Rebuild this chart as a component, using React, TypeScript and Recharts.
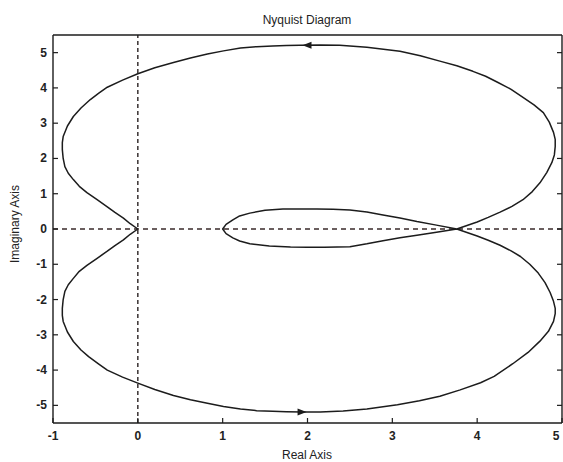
import { LineChart, Line, XAxis, YAxis, ReferenceLine, ReferenceDot } from "recharts";

const WIDTH = 563;
const HEIGHT = 462;
const FONT = "'Liberation Sans', Arial, sans-serif";
const INK = "#1c1c1c";

const reTicks = [-1, 0, 1, 2, 3, 4, 5];
const imTicks = [-5, -4, -3, -2, -1, 0, 1, 2, 3, 4, 5];

// traced from the origin: lower lobe, inner loop, upper lobe, back to the origin
const realPart = [
  // lower lobe
  0, -0.09, -0.17, -0.27, -0.36, -0.48, -0.6, -0.69, -0.76, -0.82, -0.86, -0.88, -0.89, -0.89, -0.88, -0.83,
  -0.76, -0.67, -0.58, -0.46, -0.36, -0.18, 0, 0.2, 0.42, 0.62, 0.82, 1.01, 1.21, 1.4, 1.59, 1.75, 1.93,
  2.15, 2.42, 2.7, 3.06, 3.32, 3.56, 3.8, 4.04, 4.2, 4.42, 4.6, 4.74, 4.84, 4.9, 4.92, 4.92, 4.9, 4.86,
  4.8, 4.72, 4.62, 4.51, 4.4, 4.27, 4.13, 4.0, 3.88, 3.76,
  // inner loop
  3.52, 3.29, 3.09, 2.89, 2.7, 2.5, 2.3, 2.11, 1.91, 1.71, 1.5, 1.32, 1.2, 1.12, 1.04, 1.0,
  1.04, 1.12, 1.2, 1.32, 1.55, 1.8, 2.0, 2.2, 2.5, 2.7, 2.89, 3.09, 3.29, 3.52, 3.76,
  // upper lobe
  3.88, 4.0, 4.13, 4.27, 4.41, 4.54, 4.65, 4.74, 4.82, 4.88, 4.91, 4.92, 4.92, 4.9, 4.85, 4.78, 4.67,
  4.54, 4.4, 4.24, 4.1, 3.95, 3.76, 3.56, 3.33, 3.09, 2.7, 2.38, 2.15, 1.91, 1.75, 1.59, 1.4, 1.21,
  1.01, 0.82, 0.62, 0.42, 0.2, 0, -0.18, -0.36, -0.46, -0.56, -0.67, -0.76, -0.83, -0.88, -0.89,
  -0.89, -0.88, -0.86, -0.82, -0.76, -0.69, -0.6, -0.48, -0.36, -0.27, -0.17, -0.09, 0,
];
const imagPart = [
  // lower lobe
  0, -0.15, -0.31, -0.47, -0.63, -0.83, -1.03, -1.2, -1.4, -1.58, -1.77, -2.0, -2.25, -2.45, -2.62, -2.92,
  -3.19, -3.43, -3.62, -3.83, -4.0, -4.2, -4.37, -4.55, -4.72, -4.84, -4.94, -5.03, -5.1, -5.15, -5.17, -5.18, -5.19,
  -5.19, -5.16, -5.1, -4.98, -4.87, -4.74, -4.56, -4.36, -4.18, -3.82, -3.5, -3.18, -2.9, -2.62, -2.4, -2.25, -2.05, -1.8,
  -1.52, -1.25, -1.0, -0.78, -0.62, -0.46, -0.32, -0.2, -0.1, 0,
  // inner loop
  0.11, 0.21, 0.31, 0.4, 0.48, 0.54, 0.56, 0.57, 0.57, 0.57, 0.53, 0.45, 0.37, 0.26, 0.13, 0,
  -0.13, -0.25, -0.34, -0.42, -0.48, -0.51, -0.52, -0.52, -0.5, -0.42, -0.33, -0.25, -0.18, -0.09, 0,
  // upper lobe
  0.1, 0.2, 0.33, 0.48, 0.64, 0.83, 1.06, 1.31, 1.6, 1.88, 2.1, 2.34, 2.54, 2.74, 3.03, 3.3, 3.52,
  3.73, 3.96, 4.16, 4.33, 4.47, 4.63, 4.76, 4.91, 5.04, 5.15, 5.21, 5.22, 5.21, 5.2, 5.19, 5.17, 5.13,
  5.05, 4.96, 4.85, 4.72, 4.57, 4.4, 4.22, 4.02, 3.85, 3.67, 3.43, 3.19, 2.92, 2.62, 2.45,
  2.25, 2.0, 1.77, 1.58, 1.4, 1.21, 1.03, 0.83, 0.63, 0.47, 0.31, 0.15, 0,
];

const arrowRe = [2.0, 1.93];
const arrowIm = [5.21, -5.19];
const arrowDir = [-1, 1];

const curve = realPart.map((re, i) => ({ re, im: imagPart[i] }));

function BottomTick({ x, y, payload }: any) {
  return (
    <g>
      <line x1={x} y1={y} x2={x} y2={y - 5} stroke={INK} strokeWidth={1.2} />
      <text
        x={Math.min(x, 556)}
        y={y + 17}
        textAnchor="middle"
        fontSize={12}
        fontWeight="bold"
        fill="#222"
        fontFamily={FONT}
      >
        {payload.value}
      </text>
    </g>
  );
}

function TopTick({ x, y }: any) {
  return <line x1={x} y1={y} x2={x} y2={y + 5} stroke={INK} strokeWidth={1.2} />;
}

function LeftTick({ x, y, payload }: any) {
  return (
    <g>
      <line x1={x} y1={y} x2={x + 5} y2={y} stroke={INK} strokeWidth={1.2} />
      <text x={x - 6} y={y + 4} textAnchor="end" fontSize={12} fontWeight="bold" fill="#222" fontFamily={FONT}>
        {payload.value}
      </text>
    </g>
  );
}

function RightTick({ x, y }: any) {
  return <line x1={x} y1={y} x2={x - 5} y2={y} stroke={INK} strokeWidth={1.2} />;
}

function arrowShape(dir: number) {
  return ({ cx, cy }: any) => (
    <polygon
      points={`${cx + dir * 5},${cy} ${cx - dir * 4},${cy - 3.5} ${cx - dir * 4},${cy + 3.5}`}
      fill={INK}
    />
  );
}

const label = {
  position: "absolute" as const,
  width: 200,
  textAlign: "center" as const,
  fontFamily: FONT,
  fontSize: 12,
  color: "#222",
};

export default function App() {
  return (
    <div style={{ position: "absolute", left: 0, top: 0, width: WIDTH, height: HEIGHT, background: "#fff" }}>
      <LineChart width={WIDTH} height={HEIGHT} margin={{ top: 0, right: 0, bottom: 0, left: 0 }}>
        <XAxis
          xAxisId="b"
          type="number"
          dataKey="re"
          domain={[-1, 5]}
          ticks={reTicks}
          interval={0}
          height={39}
          tickSize={0}
          tickMargin={0}
          tick={<BottomTick />}
          axisLine={{ stroke: INK, strokeWidth: 1.4 }}
          allowDataOverflow
        />
        <XAxis
          xAxisId="t"
          orientation="top"
          type="number"
          domain={[-1, 5]}
          ticks={reTicks}
          interval={0}
          height={35}
          tickSize={0}
          tickMargin={0}
          tick={<TopTick />}
          axisLine={{ stroke: INK, strokeWidth: 1.4 }}
          allowDataOverflow
        />
        <YAxis
          yAxisId="l"
          type="number"
          domain={[-5.5, 5.5]}
          ticks={imTicks}
          interval={0}
          width={53}
          tickSize={0}
          tickMargin={0}
          tick={<LeftTick />}
          axisLine={{ stroke: INK, strokeWidth: 1.4 }}
          allowDataOverflow
        />
        <YAxis
          yAxisId="r"
          orientation="right"
          type="number"
          domain={[-5.5, 5.5]}
          ticks={imTicks}
          interval={0}
          width={1}
          tickSize={0}
          tickMargin={0}
          tick={<RightTick />}
          axisLine={{ stroke: INK, strokeWidth: 1.4 }}
          allowDataOverflow
        />
        <ReferenceLine xAxisId="b" yAxisId="l" x={0} stroke="#2a2222" strokeWidth={1.4} strokeDasharray="4 3" />
        <ReferenceLine xAxisId="b" yAxisId="l" y={0} stroke="#3a2a2a" strokeWidth={1.4} strokeDasharray="5 4" />
        <Line
          xAxisId="b"
          yAxisId="l"
          data={curve}
          dataKey="im"
          type="linear"
          stroke={INK}
          strokeWidth={1.5}
          strokeLinejoin="round"
          dot={false}
          activeDot={false}
          isAnimationActive={false}
        />
        {arrowRe.map((re, i) => (
          <ReferenceDot
            key={i}
            xAxisId="b"
            yAxisId="l"
            x={re}
            y={arrowIm[i]}
            shape={arrowShape(arrowDir[i])}
          />
        ))}
      </LineChart>
      <div style={{ ...label, left: 207, top: 13 }}>Nyquist Diagram</div>
      <div style={{ ...label, left: 207, top: 448 }}>Real Axis</div>
      <div style={{ ...label, left: 15, top: 224, transform: "translate(-50%, -50%) rotate(-90deg)" }}>
        Imaginary Axis
      </div>
    </div>
  );
}
